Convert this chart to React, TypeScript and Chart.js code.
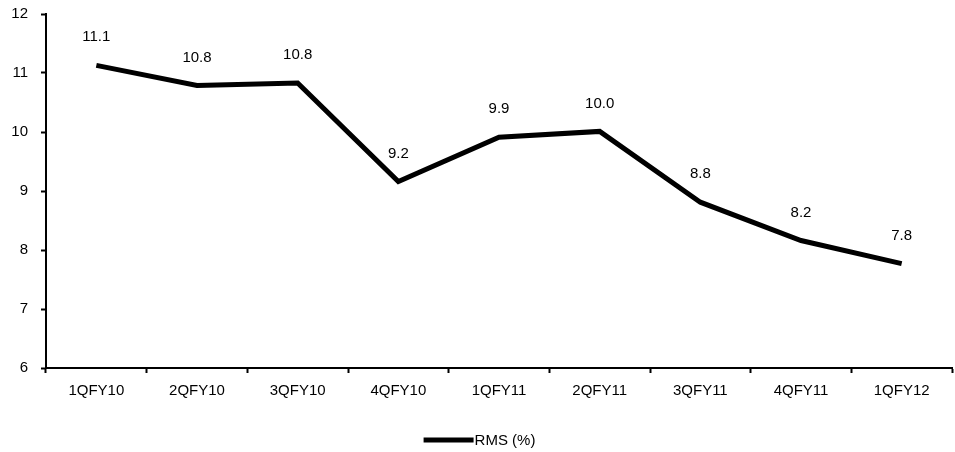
import React, { useEffect, useRef } from "react";
import { Chart, registerables } from "chart.js";

Chart.register(...registerables);

const quarters = [
  "1QFY10", "2QFY10", "3QFY10", "4QFY10", "1QFY11",
  "2QFY11", "3QFY11", "4QFY11", "1QFY12",
];
const rmsValues = [11.13, 10.79, 10.83, 9.16, 9.91, 10.01, 8.81, 8.16, 7.77];
const seriesLabel = "RMS (%)";
const yMin = 6;
const yMax = 12;

const FONT = "'Liberation Sans', Arial, sans-serif";
const FONT_SIZE = 15;

// Value labels above each point
const valueLabels = {
  id: "valueLabels",
  afterDatasetsDraw(chart: any) {
    const ctx = chart.ctx;
    const meta = chart.getDatasetMeta(0);
    const data = chart.data.datasets[0].data as number[];
    ctx.save();
    ctx.font = `${FONT_SIZE}px ${FONT}`;
    ctx.fillStyle = "#000";
    ctx.textAlign = "center";
    ctx.textBaseline = "middle";
    meta.data.forEach((pt: any, i: number) => {
      ctx.fillText(data[i].toFixed(1), pt.x, pt.y - 28);
    });
    ctx.restore();
  },
};

// Legend at the bottom centre: a line sample followed by the series name
const bottomLegend = {
  id: "bottomLegend",
  afterDraw(chart: any) {
    const ctx = chart.ctx;
    const ds = chart.data.datasets[0];
    ctx.save();
    ctx.font = `${FONT_SIZE}px ${FONT}`;
    const text = ds.label as string;
    const tw = ctx.measureText(text).width;
    const lineLen = 50;
    const total = lineLen + 1 + tw;
    const x0 = (chart.width - total) / 2 + 2;
    const y = 440;
    ctx.strokeStyle = ds.borderColor;
    ctx.lineWidth = 5;
    ctx.beginPath();
    ctx.moveTo(x0, y);
    ctx.lineTo(x0 + lineLen, y);
    ctx.stroke();
    ctx.fillStyle = "#000";
    ctx.textAlign = "left";
    ctx.textBaseline = "middle";
    ctx.fillText(text, x0 + lineLen + 1, y + 1);
    ctx.restore();
  },
};

export default function App() {
  const canvasRef = useRef<HTMLCanvasElement | null>(null);

  useEffect(() => {
    if (!canvasRef.current) return;
    const chart = new Chart(canvasRef.current, {
      type: "line",
      data: {
        labels: quarters,
        datasets: [
          {
            label: seriesLabel,
            data: rmsValues,
            borderColor: "#000",
            backgroundColor: "#000",
            borderWidth: 5,
            pointRadius: 0,
            pointHoverRadius: 0,
            tension: 0,
            borderJoinStyle: "miter",
          },
        ],
      },
      options: {
        animation: false,
        responsive: false,
        maintainAspectRatio: false,
        layout: { padding: { left: 0, top: 14, right: 3, bottom: 0 } },
        plugins: {
          legend: { display: false },
          tooltip: { enabled: false },
        },
        scales: {
          x: {
            offset: true,
            afterFit: (s: any) => {
              s.height = 84;
              s.paddingLeft = 0;
              s.paddingRight = 0;
            },
            grid: {
              offset: true,
              drawOnChartArea: false,
              drawTicks: true,
              tickLength: 5,
              tickWidth: 2,
              tickColor: "#000",
              color: "#000",
            },
            border: { display: true, color: "#000", width: 2 },
            ticks: {
              color: "#000",
              font: { family: FONT, size: FONT_SIZE },
              padding: 9,
              maxRotation: 0,
              autoSkip: false,
            },
          },
          y: {
            min: yMin,
            max: yMax,
            afterFit: (s: any) => {
              s.width = 46;
              s.paddingTop = 0;
              s.paddingBottom = 0;
            },
            grid: {
              drawOnChartArea: false,
              drawTicks: true,
              tickLength: 5,
              tickWidth: 2,
              tickColor: "#000",
              color: "#000",
            },
            border: { display: true, color: "#000", width: 2 },
            ticks: {
              stepSize: 1,
              color: "#000",
              font: { family: FONT, size: FONT_SIZE },
              padding: 13,
            },
          },
        },
      },
      plugins: [valueLabels, bottomLegend],
    });
    return () => chart.destroy();
  }, []);

  return (
    <div style={{ position: "fixed", left: 0, top: 0, width: 955, height: 452, background: "#fff" }}>
      <canvas ref={canvasRef} width={955} height={452} />
    </div>
  );
}
